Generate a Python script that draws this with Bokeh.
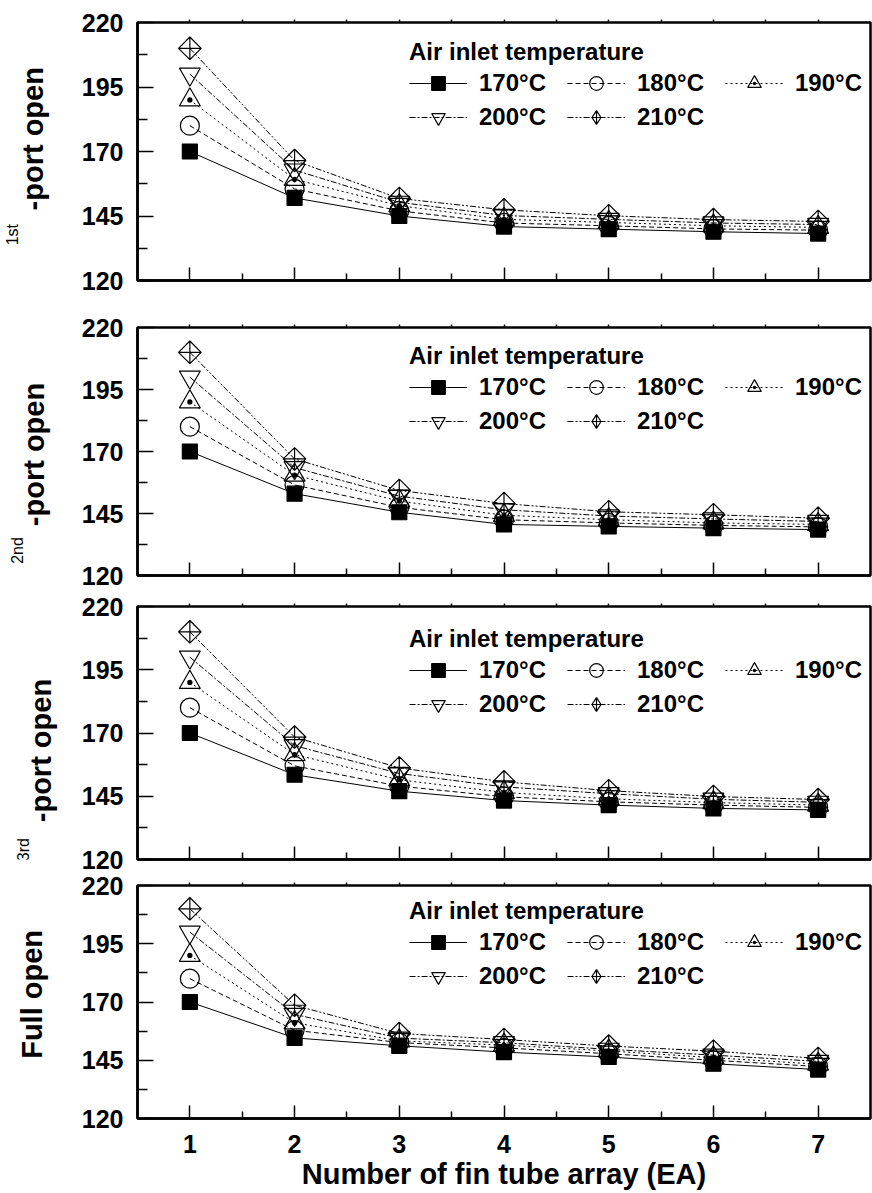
import math
from bokeh.plotting import figure
from bokeh.layouts import column, row
from bokeh.models import Range1d, FixedTicker, Legend, LegendItem, LinearAxis
from bokeh.core.properties import value
from bokeh.embed import file_html
from bokeh.resources import INLINE

# ---------------- data ----------------
fin_tube_array = [1, 2, 3, 4, 5, 6, 7]
temp_labels = ["170°C", "180°C", "190°C", "200°C", "210°C"]
y_ticks = [120, 145, 170, 195, 220]

first_170 = [170, 152.0, 145.0, 140.9, 139.9, 138.9, 138.2]
first_180 = [180, 155.5, 147.0, 142.3, 141.2, 140.0, 139.5]
first_190 = [190, 159.2, 149.0, 143.7, 142.5, 141.2, 140.6]
first_200 = [200, 162.8, 150.3, 145.2, 143.7, 142.3, 141.7]
first_210 = [210, 166.5, 151.8, 147.4, 145.1, 143.6, 142.9]

second_170 = [170, 153.0, 145.5, 140.6, 139.8, 139.1, 138.5]
second_180 = [180, 156.5, 147.5, 142.5, 141.2, 140.2, 139.6]
second_190 = [190, 160.5, 150.0, 144.3, 142.5, 141.2, 140.6]
second_200 = [200, 163.5, 152.0, 146.5, 144.0, 142.8, 141.8]
second_210 = [210, 167.0, 154.3, 149.0, 145.7, 144.5, 143.1]

third_170 = [170, 153.5, 147.0, 143.3, 141.5, 140.2, 139.6]
third_180 = [180, 157.0, 149.0, 144.8, 142.8, 141.5, 140.6]
third_190 = [190, 161.5, 151.5, 146.5, 144.0, 142.5, 141.5]
third_200 = [200, 165.0, 154.0, 148.7, 146.0, 143.8, 142.6]
third_210 = [210, 168.4, 156.2, 150.7, 147.2, 144.9, 143.7]

full_170 = [170, 154.6, 151.2, 148.5, 146.4, 143.5, 141.0]
full_180 = [180, 157.9, 152.6, 150.3, 147.8, 145.0, 142.3]
full_190 = [190, 161.1, 153.3, 151.5, 149.0, 146.1, 143.3]
full_200 = [200, 164.7, 154.5, 152.5, 149.7, 147.2, 144.5]
full_210 = [210, 168.6, 156.5, 153.9, 151.1, 148.9, 145.8]

panels = [
    [first_170, first_180, first_190, first_200, first_210],
    [second_170, second_180, second_190, second_200, second_210],
    [third_170, third_180, third_190, third_200, third_210],
    [full_170, full_180, full_190, full_200, full_210],
]
panel_names = ["-port open", "-port open", "-port open", "Full open"]
panel_sups = ["1st", "2nd", "3rd", ""]

# ---------------- styles ----------------
FONT = "Liberation Sans"
styles = [
    dict(marker="square", size=15, fill_color="black", fill_alpha=1.0, dash="solid", angle=0.0, legend_marker=None),
    dict(marker="circle", size=19, fill_color="white", fill_alpha=0.0, dash="5 3", angle=0.0, legend_marker=None),
    dict(marker="triangle_dot", size=21, fill_color="white", fill_alpha=0.0, dash="2 3", angle=0.0, legend_marker=None),
    dict(marker="inverted_triangle", size=21, fill_color="white", fill_alpha=0.0, dash="6 2 2 2", angle=0.0, legend_marker=None),
    dict(marker="square_x", size=16, fill_color="white", fill_alpha=0.0, dash="6 2 2 2 2 2", angle=math.pi / 4,
         legend_marker="diamond_cross"),
]

LABEL_W = 60
TOTAL_W = 872
# per panel: (top border, frame height, bottom border)
frames = [(22, 258, 24), (23, 248, 16), (15, 253, 13), (13, 233, 75)]
# label positions inside the label strip: (main x, main y from top, sup x, sup y from top)
label_pos = [(32, 137, 12, 250), (33, 147, 17, 258), (40, 160, 23, 270), (31, 150, 0, 0)]
legend_row1 = [61, 60, 64, 57]
minor_x = [1.5, 2.5, 3.5, 4.5, 5.5, 6.5]
blank_x = {t: "" for t in fin_tube_array}

rows = []
for i, series in enumerate(panels):
    tb, fh, bb = frames[i]
    H = tb + fh + bb

    # label strip
    lf = figure(width=LABEL_W, height=H, output_backend="svg", toolbar_location=None,
                x_range=Range1d(0, LABEL_W), y_range=Range1d(0, H),
                x_axis_type=None, y_axis_type=None, title=None,
                min_border=0, min_border_left=0, min_border_right=0,
                min_border_top=0, min_border_bottom=0)
    lf.outline_line_color = None
    lf.xgrid.visible = False
    lf.ygrid.visible = False
    mx, my, sx, sy = label_pos[i]
    lf.text(x=[mx], y=[H - my], text=[panel_names[i]], angle=math.pi / 2,
            text_align="center", text_baseline="middle", text_font=value(FONT),
            text_font_style="bold", text_font_size="29px", text_color="black")
    if panel_sups[i]:
        lf.text(x=[sx], y=[H - sy], text=[panel_sups[i]], angle=math.pi / 2,
                text_align="center", text_baseline="middle", text_font=value(FONT),
                text_font_size="16px", text_color="black")

    p = figure(width=TOTAL_W - LABEL_W, height=H, output_backend="svg", toolbar_location=None,
               x_range=Range1d(0.5, 7.5), y_range=Range1d(120, 220), title=None,
               min_border_left=137 - LABEL_W, min_border_right=2,
               min_border_top=tb, min_border_bottom=bb)
    p.background_fill_color = "white"
    p.border_fill_color = "white"
    p.outline_line_color = "black"
    p.outline_line_width = 2.5
    p.xgrid.visible = False
    p.ygrid.visible = False

    ya = p.yaxis[0]
    ya.ticker = FixedTicker(ticks=y_ticks, minor_ticks=[132.5, 157.5, 182.5, 207.5])
    ya.axis_line_width = 2.5
    ya.major_tick_in = 16
    ya.major_tick_out = 0
    ya.minor_tick_in = 10
    ya.minor_tick_out = 0
    ya.major_tick_line_width = 1.5
    ya.minor_tick_line_width = 1.5
    ya.major_label_text_font = FONT
    ya.major_label_text_font_style = "bold"
    ya.major_label_text_font_size = "25px"
    ya.major_label_text_color = "black"
    ya.major_label_standoff = 14

    xa = p.xaxis[0]
    xa.ticker = FixedTicker(ticks=fin_tube_array, minor_ticks=minor_x)
    xa.axis_line_width = 2.5
    xa.major_tick_in = 13
    xa.major_tick_out = 0
    xa.minor_tick_in = 7
    xa.minor_tick_out = 0
    xa.major_tick_line_width = 1.5
    xa.minor_tick_line_width = 1.5
    if i < 3:
        xa.major_label_overrides = blank_x
        xa.major_label_text_font_size = "0px"
        xa.major_label_standoff = 0
    else:
        xa.major_label_text_font = FONT
        xa.major_label_text_font_style = "bold"
        xa.major_label_text_font_size = "25px"
        xa.major_label_text_color = "black"
        xa.major_label_standoff = 16
        xa.axis_label = "Number of fin tube array (EA)"
        xa.axis_label_text_font = FONT
        xa.axis_label_text_font_style = "bold"
        xa.axis_label_text_font_size = "29px"
        xa.axis_label_text_color = "black"
        xa.axis_label_standoff = 2

    # small outward ticks along the top edge
    top_axis = LinearAxis(ticker=FixedTicker(ticks=fin_tube_array, minor_ticks=minor_x),
                          axis_line_color=None, major_tick_in=0, major_tick_out=3,
                          minor_tick_in=0, minor_tick_out=3, major_tick_line_width=1.5,
                          minor_tick_line_width=1.5, major_label_overrides=blank_x,
                          major_label_text_font_size="0px", major_label_standoff=0)
    p.add_layout(top_axis, "above")

    items = []
    for vals, st, lab in zip(series, styles, temp_labels):
        lr = p.line(fin_tube_array, vals, line_color="black", line_width=1, line_dash=st["dash"])
        sr = p.scatter(fin_tube_array, vals, marker=st["marker"], size=st["size"], angle=st["angle"],
                       line_color="black", line_width=1.2, fill_color=st["fill_color"],
                       fill_alpha=st["fill_alpha"])
        if st["legend_marker"]:
            # legend-only marker (zero size in the plot)
            lm = p.scatter(fin_tube_array, vals, marker=st["legend_marker"], size=0,
                           line_color="black", line_width=1.2, fill_alpha=0.0)
            items.append(LegendItem(label=lab, renderers=[lr, lm]))
        else:
            items.append(LegendItem(label=lab, renderers=[lr, sr]))

    legend = Legend(items=items, orientation="horizontal", ncols=3,
                    location=(272, fh - (legend_row1[i] + 51)),
                    title="Air inlet temperature", title_text_font=FONT,
                    title_text_font_style="bold", title_text_font_size="24px",
                    title_text_color="black", title_standoff=0,
                    label_text_font=FONT, label_text_font_style="bold",
                    label_text_font_size="24px", label_text_color="black",
                    label_standoff=12,
                    glyph_width=58, glyph_height=34, label_width=88, label_height=24,
                    spacing=0, padding=0, margin=0,
                    border_line_alpha=0, background_fill_alpha=0)
    p.add_layout(legend, "center")

    rows.append(row(lf, p, spacing=0))

layout_col = column(*rows, spacing=0)
open("out.html", "w").write(file_html(layout_col, INLINE))
